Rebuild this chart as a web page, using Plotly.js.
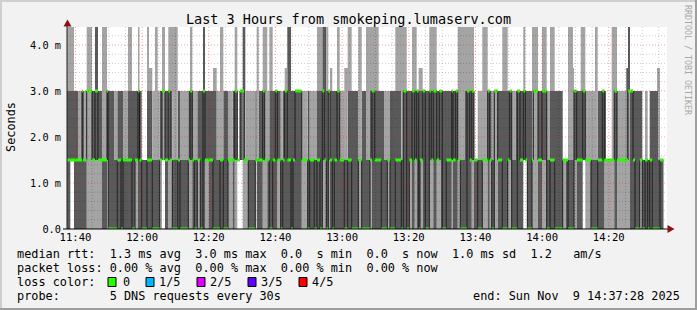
<!DOCTYPE html>
<html><head><meta charset="utf-8">
<script src="https://cdn.plot.ly/plotly-3.0.1.min.js"></script>
<style>html,body{margin:0;padding:0;background:#f2f2f2;} #chart{width:697px;height:310px;}</style>
</head><body><div id="chart"></div>
<script>
// Window: last 3 hours ending Sun Nov 9 14:37:28 2025
const windowStartUTC = [2025, 10, 9, 11, 37, 28];
const windowMinutes = 180;
// Segment start times, minutes after window start (one entry per constant run of samples)
const segStartMin = [0,0.99,2.1,3.3,4.5,4.8,5.91,7.5,8.4,9.3,
10.5,12,12.3,14.1,15.09,16.2,16.8,18.3,19.5,20.4,
21.3,21.75,22.41,24,24.6,25.59,26.4,27.21,27.81,28.5,
29.4,30.39,30.9,31.59,33.21,33.9,36.39,36.9,37.59,38.19,
39.09,39.99,40.8,41.4,42.51,43.8,44.91,45.9,46.89,48.3,
49.71,50.31,51.09,51.9,52.71,53.1,53.49,54.39,56.49,56.91,
57.51,58.71,59.31,60.09,60.69,61.71,62.49,63.09,64.11,64.71,
65.31,66.09,67.2,67.8,68.4,70.41,72.21,72.81,74.19,75,
75.9,76.59,77.19,77.79,78.39,78.9,79.59,80.19,81,81.81,
83.19,84.21,85.41,87.39,88.41,89.7,90.9,91.5,92.31,93.51,
94.29,95.1,96.09,96.9,98.49,100.29,100.89,101.91,102.69,103.5,
104.31,104.91,105.51,105.9,106.71,107.49,108.69,109.29,109.89,110.91,
111.69,112.2,112.59,113.79,115.41,115.8,116.61,117.21,117.99,119.4,
120,120.81,121.41,122.1,123.21,124.59,126.21,126.81,127.41,128.19,
129.21,130.59,132.21,132.81,133.41,134.7,135.09,135.9,136.89,137.49,
138.09,139.5,139.89,141.3,142.5,143.91,144.9,146.31,148.71,149.7,
150.3,151.8,152.1,152.91,154.11,154.71,155.49,157.2,158.4,159.21,
160.59,161.19,161.7,163.41,164.19,165,167.79,168.3,168.9,169.8,
170.4,171.81,172.59,173.4,174.21,174.81,175.59,177,177.39,177.9];
const lastSampleEndMin = 178.95;
// Sorted ping RTTs (ms) per segment, 5 pings each
const p1 = [0,1.5,0,0,0,0,0,0,0,0, 0,1.5,0,0,0,0,0,0,0,0, 0,0,0,0,0,0,0,0,0,1.5, 0,0,0,0,0,0,0,0,0,0,
0,0,0,0,0,0,0,0,0,0, 0,0,1.5,1.5,0,0,0,0,1.5,0, 0,0,0,0,0,0,0,0,0,0, 0,0,0,0,0,0,0,0,0,0,
0,0,0,0,0,0,0,0,0,0, 0,0,0,0,0,0,0,0,0,0, 0,0,0,0,0,0,0,0,0,0, 0,0,0,0,0,0,0,0,0,0,
0,0,0,0,0,0,0,0,0,0, 0,0,0,0,0,0,0,0,0,0, 0,0,0,0,0,0,0,0,1.5,1.5, 0,0,0,0,0,0,0,0,0,0,
0,0,0,0,0,1.5,0,0,0,0, 0,0,0,0,0,0,0,0,0,0, 0,0,0,0,0,0,0,0,0,0];
const p2 = [0,1.5,0,0,0,0,3,1.5,1.5,1.5, 0,1.5,0,0,0,0,0,0,0,1.5, 0,0,0,0,0,0,0,0,1.5,3, 0,3,1.5,0,0,0,1.5,1.5,0,0,
1.5,0,0,1.5,0,0,0,0,0,1.5, 0,1.5,1.5,1.5,3,1.5,1.5,0,1.5,0, 0,1.5,1.5,0,0,0,0,1.5,0,0, 0,0,0,0,0,1.5,0,0,0,0,
0,1.5,1.5,0,3,0,0,0,0,0, 0,0,0,1.5,0,0,1.5,0,0,0, 0,0,1.5,0,0,0,0,0,1.5,0, 1.5,0,0,1.5,0,0,1.5,1.5,0,1.5,
1.5,0,0,0,1.5,0,0,1.5,0,0, 0,0,1.5,0,0,1.5,0,1.5,0,3, 0,0,1.5,1.5,0,0,0,0,1.5,1.5, 0,1.5,3,0,1.5,0,0,0,1.5,0,
0,0,1.5,0,0,1.5,1.5,0,0,0, 0,1.5,1.5,1.5,0,1.5,1.5,3,0,0, 0,1.5,0,0,0,0,0,0,0,0];
const p3 = [1.5,1.5,1.5,1.5,3,1.5,3,1.5,3,1.5, 1.5,3,0,0,1.5,0,1.5,1.5,0,1.5, 3,1.5,0,1.5,1.5,0,0,0,1.5,3, 1.5,3,1.5,0,1.5,0,1.5,3,1.5,0,
1.5,0,3,1.5,1.5,0,0,1.5,0,1.5, 1.5,3,1.5,3,3,1.5,1.5,0,1.5,1.5, 1.5,3,1.5,1.5,0,1.5,3,1.5,0,1.5, 3,1.5,0,1.5,3,1.5,0,1.5,0,1.5,
0,3,1.5,0,3,1.5,0,1.5,3,1.5, 0,1.5,0,1.5,0,0,1.5,3,1.5,1.5, 0,0,1.5,0,1.5,0,3,0,1.5,3, 1.5,3,0,1.5,3,0,3,1.5,3,1.5,
3,3,0,1.5,3,1.5,3,1.5,0,0, 3,1.5,3,1.5,0,1.5,3,1.5,0,3, 1.5,0,1.5,3,0,0,3,1.5,3,1.5, 0,1.5,3,1.5,3,0,1.5,0,1.5,1.5,
0,0,3,1.5,1.5,3,1.5,0,0,1.5, 3,1.5,1.5,1.5,3,1.5,1.5,3,3,1.5, 0,1.5,0,1.5,0,1.5,0,0,0,1.5];
const p4 = [3,3,3,1.5,3,1.5,3,3,4.5,3, 1.5,3,3,1.5,3,3,1.5,3,3,3, 3,3,1.5,3,3,1.5,1.5,1.5,3,3, 3,3,3,1.5,3,1.5,3,3,1.5,1.5,
3,3,4.5,3,3,3,1.5,1.5,3,1.5, 3,3,1.5,3,4.5,4.5,1.5,1.5,3,1.5, 3,3,1.5,1.5,3,3,3,3,1.5,3, 3,4.5,3,3,3,1.5,3,1.5,1.5,3,
3,4.5,4.5,3,3,3,3,3,3,1.5, 1.5,3,3,1.5,3,1.5,3,3,3,3, 3,1.5,1.5,3,3,1.5,3,3,3,3, 3,3,3,3,3,3,3,3,3,3,
3,3,3,3,3,3,3,1.5,1.5,3, 3,3,3,1.5,1.5,1.5,3,3,1.5,3, 3,3,3,3,1.5,3,3,3,3,3, 3,1.5,3,3,3,1.5,3,3,1.5,1.5,
1.5,1.5,3,3,3,3,1.5,1.5,1.5,3, 3,3,1.5,1.5,3,1.5,3.5,4.5,3,3, 3,3,1.5,1.5,1.5,3,3,3,1.5,1.5];
const p5 = [4.5,4.5,3,3,3,3,4.5,3,4.5,3, 4.5,3,3,3,3,3,3,4.5,3,3, 4.5,3,1.5,4.5,3.5,3,4.5,3,3,4.5, 3,4.5,4.5,4.5,3,3,3,4.5,3,3,
3,3,4.5,3,3,3.5,3,4.5,3,3, 3,4.5,1.5,3,4.5,4.5,3,3,3,4.5, 3,4.5,4.5,3,4.5,3,3,3,3,3, 3.5,4.5,3,3,3,3,3,3,3,4.5,
4.5,4.5,4.5,4.5,3,3.5,3,3,4.5,3, 3.5,4.5,3,4.5,3,4.5,4.5,4.5,4.5,3, 3,3,3,3,4.5,4.5,4.5,3,3,4.5, 4.5,3,3.5,3.5,3,3,4.5,4.5,4.5,3,
3,3,3,3,3,3,3,4.5,4.5,4.5, 4.5,4.5,4.5,1.5,3,4.5,3,3,3,3, 3,4.5,3,3,3,3,3,3,4.5,3, 3,4.5,4.5,3,4.5,3,4.5,3,1.5,1.5,
4.5,3.5,3,3,4.5,4.5,3,3,4.5,3, 3,3,1.5,4.5,4.5,3,3.5,4.5,3,3, 3,3,1.5,3,1.5,3,3,3.5,3.5,1.5];
// Axis ticks
const yTickVals = [0, 1, 2, 3, 4];
const yTickText = ['0.0', '1.0 m', '2.0 m', '3.0 m', '4.0 m'];
const yMax = 4.39;
// Loss colour legend
const lossLabels = ['0', '1/5', '2/5', '3/5', '4/5'];
const lossColors = ['#26ff00', '#00b8ff', '#dd00ff', '#5e00ff', '#ff0000'];
const statsLine1 = 'median rtt:  1.3 ms avg  3.0 ms max  0.0  s min  0.0  s now  1.0 ms sd  1.2   am/s';
const statsLine2 = 'packet loss: 0.00 % avg  0.00 % max  0.00 % min  0.00 % now';
const probeLine = 'probe:       5 DNS requests every 30s';
const endLine = 'end: Sun Nov  9 14:37:28 2025';

const base = Date.UTC.apply(null, windowStartUTC);
const endMs = base + windowMinutes * 60000;
const xs = segStartMin.concat([lastSampleEndMin]).map(m => base + m * 60000);
const ext = a => a.concat([a[a.length - 1]]);
const LIGHT = '#a4a4a4', DARK = '#5a5a5a';
const band = (y, fill, color) => ({x: xs, y: ext(y), type: 'scatter', mode: 'lines', line: {width: 0, shape: 'hv'},
  fill: fill, fillcolor: color, hoverinfo: 'skip', showlegend: false});
const traces = [
  band(p1, 'none', 'rgba(0,0,0,0)'),
  band(p2, 'tonexty', LIGHT),
  band(p3, 'tonexty', DARK),
  band(p4, 'tonexty', DARK),
  band(p5, 'tonexty', LIGHT),
  {x: xs, y: ext(p3), type: 'scatter', mode: 'lines', line: {width: 1, color: '#1c1c1c', shape: 'hv'}, hoverinfo: 'skip', showlegend: false}
];
const gx = [], gy = [];
for (let i = 0; i < p3.length; i++) { gx.push(xs[i], xs[i + 1], null); gy.push(p3[i], p3[i], null); }
traces.push({x: gx, y: gy, type: 'scatter', mode: 'lines', line: {width: 3, color: lossColors[0]}, connectgaps: false, hoverinfo: 'skip', showlegend: false});

const PX = x => (x - 67) / 600, PY = y => (229 - y) / 202;
const shapes = [];
const dot = '1px,2px';
for (let k = 1; k * 0.2 < yMax; k++) {
  const v = Math.round(k * 2) / 10;
  const major = Math.abs(v - Math.round(v)) < 1e-9;
  shapes.push({type: 'line', xref: 'paper', yref: 'y', x0: 0, x1: 1, y0: v, y1: v, layer: 'above',
    line: {width: 1, dash: dot, color: major ? 'rgba(255,0,0,0.38)' : 'rgba(0,0,0,0.2)'}});
}
const firstGrid = Date.UTC(2025, 10, 9, 11, 40, 0);
for (let t = firstGrid, k = 0; t < endMs; t += 300000, k++) {
  const major = (k % 4 === 0);
  shapes.push({type: 'line', xref: 'x', yref: 'paper', x0: t, x1: t, y0: 0, y1: 1, layer: 'above',
    line: {width: 1, dash: dot, color: major ? 'rgba(255,0,0,0.38)' : 'rgba(0,0,0,0.2)'}});
}
// axes
shapes.push({type: 'line', xref: 'paper', yref: 'paper', x0: PX(67), x1: PX(67), y0: PY(229), y1: PY(23), line: {width: 1, color: '#222'}, layer: 'above'});
shapes.push({type: 'line', xref: 'paper', yref: 'paper', x0: PX(63), x1: PX(668), y0: PY(229), y1: PY(229), line: {width: 1, color: '#000'}, layer: 'above'});
shapes.push({type: 'path', xref: 'paper', yref: 'paper', layer: 'above', fillcolor: '#8b1010', line: {width: 0},
  path: `M${PX(63.5)},${PY(26.5)} L${PX(67.5)},${PY(19.5)} L${PX(71.5)},${PY(26.5)} Z`});
shapes.push({type: 'path', xref: 'paper', yref: 'paper', layer: 'above', fillcolor: '#8b1010', line: {width: 0},
  path: `M${PX(667.5)},${PY(225)} L${PX(674.5)},${PY(229)} L${PX(667.5)},${PY(233)} Z`});
// frame
shapes.push({type: 'rect', xref: 'paper', yref: 'paper', x0: PX(0), x1: PX(697), y0: PY(0), y1: PY(2), fillcolor: '#cfcfcf', line: {width: 0}});
shapes.push({type: 'rect', xref: 'paper', yref: 'paper', x0: PX(0), x1: PX(2), y0: PY(0), y1: PY(310), fillcolor: '#cfcfcf', line: {width: 0}});
shapes.push({type: 'rect', xref: 'paper', yref: 'paper', x0: PX(0), x1: PX(697), y0: PY(308), y1: PY(310), fillcolor: '#9e9e9e', line: {width: 0}});
shapes.push({type: 'rect', xref: 'paper', yref: 'paper', x0: PX(695), x1: PX(697), y0: PY(0), y1: PY(310), fillcolor: '#9e9e9e', line: {width: 0}});
// loss colour boxes
const boxLeft = [108, 146, 197, 248, 299];
const labelLeft = [122, 158, 209, 260, 311];
lossColors.forEach((c, i) => shapes.push({type: 'rect', xref: 'paper', yref: 'paper', x0: PX(boxLeft[i]), x1: PX(boxLeft[i] + 8),
  y0: PY(286.5), y1: PY(277.5), fillcolor: c, line: {width: 1, color: '#000'}}));

const nb = s => s.replace(/ /g, '\u00a0');
const MONO = 'DejaVu Sans Mono';
const ann = (px, py, text, size, opts) => Object.assign({xref: 'paper', yref: 'paper', x: PX(px), y: PY(py), text: nb(text),
  showarrow: false, xanchor: 'left', yanchor: 'middle', borderpad: 0, font: {family: MONO, size: size, color: '#000'}}, opts || {});
const LEG = 11.85;
const annotations = [
  ann(16, 254, statsLine1, LEG),
  ann(16, 268, statsLine2, LEG),
  ann(16, 282, 'loss color:', LEG),
  ann(16, 296, probeLine, LEG),
  ann(681, 296, endLine, LEG, {xanchor: 'right'}),
  ann(11, 127, 'Seconds', LEG, {xanchor: 'center', textangle: -90}),
  ann(688, 60, 'RRDTOOL / TOBI OETIKER', 8.3, {xanchor: 'center', textangle: 90, font: {family: MONO, size: 8.3, color: '#a8a8a8'}})
];
lossLabels.forEach((l, i) => annotations.push(ann(labelLeft[i], 282, l, LEG)));

const layout = {
  width: 697, height: 310,
  margin: {l: 67, r: 30, t: 27, b: 81, pad: 0},
  paper_bgcolor: '#f2f2f2', plot_bgcolor: '#ffffff',
  showlegend: false,
  title: {text: 'Last 3 Hours from smokeping.lumaserv.com', font: {family: MONO, size: 13.5, color: '#000'},
    x: 0.5, xref: 'container', xanchor: 'center', y: 1 - 19 / 310, yref: 'container', yanchor: 'middle'},
  xaxis: {type: 'date', range: [base, endMs], showgrid: false, zeroline: false, showline: false,
    tickformat: '%H:%M', tick0: '2025-11-09 11:40:00', dtick: 1200000, ticks: '',
    tickfont: {family: MONO, size: 10.6, color: '#000'}, fixedrange: true},
  yaxis: {range: [0, yMax], tickvals: yTickVals, ticktext: yTickText, showgrid: false, zeroline: false, showline: false,
    ticks: '', ticklabelstandoff: 5, tickfont: {family: MONO, size: 10.3, color: '#000'}, fixedrange: true},
  shapes: shapes, annotations: annotations
};
Plotly.newPlot('chart', traces, layout, {staticPlot: true, displayModeBar: false});
</script></body></html>
